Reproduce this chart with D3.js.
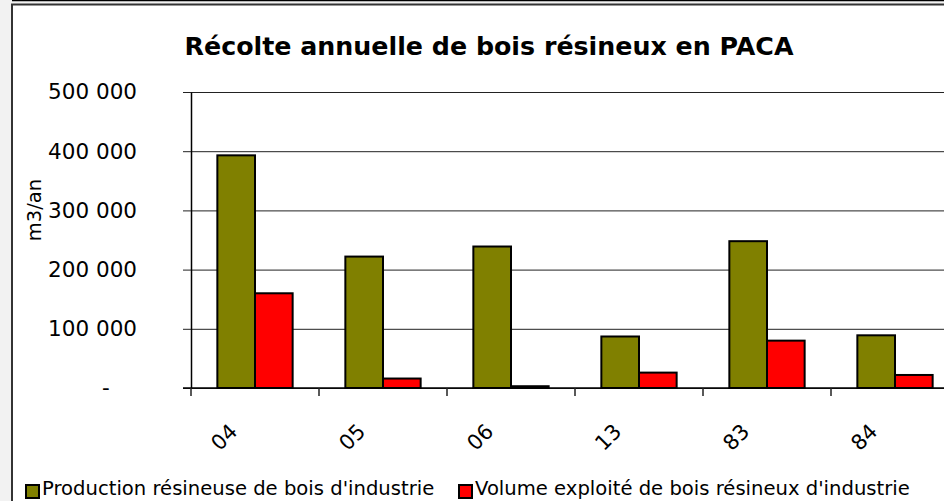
<!DOCTYPE html>
<html>
<head>
<meta charset="utf-8">
<script src="https://cdn.jsdelivr.net/npm/d3@7"></script>
<style>
  html, body { margin: 0; padding: 0; background: #f2f2f2; overflow: hidden; }
  svg { display: block; }
  text { font-family: "DejaVu Sans", Verdana, sans-serif; fill: #000; }
</style>
</head>
<body>
<svg id="chart" width="944" height="501"></svg>
<script>
// --- data
const DEPARTEMENTS = ['04', '05', '06', '13', '83', '84'];
const SERIES = ['Production résineuse de bois d\'industrie', 'Volume exploité de bois résineux d\'industrie'];
const PRODUCTION = [393000, 222000, 239000, 87000, 248000, 89000];
const VOLUME = [160000, 16000, 3000, 26000, 80000, 22000];
const Y_TICKS = [0, 100000, 200000, 300000, 400000, 500000];
const COLORS = ['#808000', '#ff0000'];

const TITLE = 'Récolte annuelle de bois résineux en PACA';
const Y_LABEL = 'm3/an';

function drawChart() {
    const svg = d3.select('#chart');
    const W = 944, H = 501;

    const plot = { left: 191, top: 92, bottom: 388, band: 128 };
    plot.right = plot.left + plot.band * DEPARTEMENTS.length;

    // frame
    svg.append('rect')
        .attr('x', 12).attr('y', 4).attr('width', W).attr('height', H)
        .attr('fill', '#fff');
    svg.append('line')
        .attr('x1', 12).attr('x2', W).attr('y1', 0.5).attr('y2', 0.5)
        .attr('stroke', '#000').attr('stroke-width', 1.5);
    svg.append('path')
        .attr('d', `M${W},4.5 H12 V${H}`)
        .attr('fill', 'none').attr('stroke', '#333').attr('stroke-width', 2);

    // title
    svg.append('text')
        .attr('x', 489).attr('y', 55)
        .attr('text-anchor', 'middle')
        .style('font-weight', 'bold')
        .style('font-size', '25.3px')
        .text(TITLE);

    const y = d3.scaleLinear()
        .domain([0, 500000])
        .range([plot.bottom, plot.top]);

    const x = d3.scaleBand()
        .domain(DEPARTEMENTS)
        .range([plot.left, plot.right])
        .padding(0);

    const xInner = d3.scaleBand()
        .domain([0, 1])
        .range([0, x.bandwidth()])
        .paddingInner(0)
        .paddingOuter(0.7);

    const fmt = d3.formatLocale({ thousands: ' ', grouping: [3], decimal: ',', currency: ['', ''] }).format(',d');
    const tickFormat = v => v === 0 ? '-\u2007\u2007' : fmt(v);

    // gridlines
    svg.append('g')
        .attr('class', 'grid')
        .attr('transform', `translate(${plot.left},0)`)
        .call(d3.axisLeft(y).tickValues(Y_TICKS).tickSize(-(W - plot.left + 20)).tickFormat(''))
        .call(g => g.select('.domain').remove())
        .call(g => g.selectAll('line').attr('stroke', '#222'));

    // y axis
    const yAxis = svg.append('g')
        .attr('transform', `translate(${plot.left},0)`)
        .call(d3.axisLeft(y).tickValues(Y_TICKS).tickSize(8).tickSizeOuter(0).tickPadding(46).tickFormat(tickFormat));
    yAxis.select('.domain').attr('stroke', '#000').attr('stroke-width', 1.5);
    yAxis.selectAll('.tick line').attr('stroke', '#222');
    yAxis.selectAll('text')
        .style('font-family', '"DejaVu Sans", Verdana, sans-serif')
        .style('font-size', '21.5px')
        .attr('fill', '#000');

    svg.append('text')
        .attr('transform', `translate(41,210) rotate(-90)`)
        .attr('text-anchor', 'middle')
        .style('font-size', '19.5px')
        .text(Y_LABEL);

    // bars
    const rows = DEPARTEMENTS.map((d, i) => ({ dep: d, values: [PRODUCTION[i], VOLUME[i]] }));
    const groups = svg.append('g')
        .selectAll('g')
        .data(rows)
        .enter()
        .append('g')
        .attr('transform', d => `translate(${x(d.dep)},0)`);

    groups.selectAll('rect')
        .data(d => d.values.map((v, s) => ({ v, s })))
        .enter()
        .append('rect')
        .attr('x', d => xInner(d.s))
        .attr('width', xInner.bandwidth())
        .attr('y', d => y(d.v))
        .attr('height', d => y(0) - y(d.v))
        .attr('fill', d => COLORS[d.s])
        .attr('stroke', '#000')
        .attr('stroke-width', 2);

    // x axis: line + ticks at band edges
    svg.append('line')
        .attr('x1', plot.left - 8).attr('x2', W)
        .attr('y1', plot.bottom).attr('y2', plot.bottom)
        .attr('stroke', '#000').attr('stroke-width', 1.5);

    svg.append('g')
        .selectAll('line')
        .data(DEPARTEMENTS)
        .enter()
        .append('line')
        .attr('x1', d => x(d)).attr('x2', d => x(d))
        .attr('y1', plot.bottom).attr('y2', plot.bottom + 8)
        .attr('stroke', '#222').attr('stroke-width', 1.5);

    svg.append('g')
        .selectAll('text')
        .data(DEPARTEMENTS)
        .enter()
        .append('text')
        .attr('transform', d => `translate(${x(d) + x.bandwidth() / 2 - 31},437) rotate(-45)`)
        .attr('text-anchor', 'middle')
        .attr('dy', '0.35em')
        .style('font-size', '21px')
        .text(d => d);

    // legend
    const legendX = [25, 458];
    const legend = svg.append('g')
        .selectAll('g')
        .data(SERIES)
        .enter()
        .append('g')
        .attr('transform', (d, i) => `translate(${legendX[i]},483)`);

    legend.append('rect')
        .attr('x', 1).attr('y', 2)
        .attr('width', 13).attr('height', 13)
        .attr('fill', (d, i) => COLORS[i])
        .attr('stroke', '#000').attr('stroke-width', 2);

    legend.append('text')
        .attr('x', 17).attr('y', 12)
        .style('font-size', '19.6px')
        .text(d => d);
}

drawChart();
</script>
</body>
</html>
